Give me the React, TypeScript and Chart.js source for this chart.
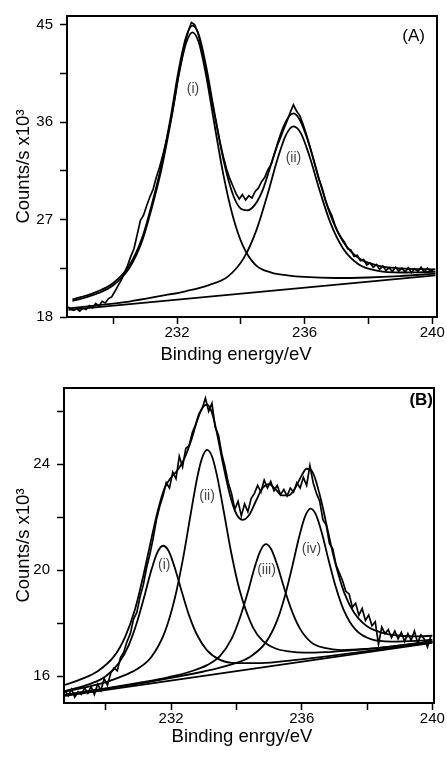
import React, { useEffect, useRef } from "react";
import { Chart, registerables } from "chart.js";

Chart.register(...registerables);

const FONT = "'Liberation Sans', Arial, sans-serif";

// ---------------- Panel A ----------------
const xTicksA = [230, 232, 234, 236, 238, 240];
const xLabelsA = [232, 236, 240];
const yTicksA = [18, 22.5, 27, 31.5, 36, 40.5, 45];
const yLabelsA = [18, 27, 36, 45];

const bgAx = [228.6, 240.1];
const bgAy = [18.65, 21.85];

const peakAix = [228.72, 229.0, 229.5, 230.0, 230.5, 230.9, 231.2, 231.5, 231.8, 232.05, 232.28, 232.48, 232.68, 232.91, 233.16, 233.46, 233.76, 234.06, 234.46, 234.96, 235.46, 235.98, 236.98, 237.98, 238.98, 240.1];
const peakAiy = [19.49, 19.7, 20.17, 20.93, 22.49, 24.97, 27.98, 31.5, 36.0, 40.3, 43.26, 44.29, 43.37, 40.33, 36.01, 31.03, 27.19, 24.62, 22.81, 22.1, 21.85, 21.7, 21.6, 21.65, 21.78, 22.0];

const peakAiix = [228.6, 229.5, 230.5, 231.5, 232.3, 233.0, 233.6, 234.1, 234.5, 234.85, 235.15, 235.42, 235.65, 235.88, 236.15, 236.45, 236.8, 237.2, 237.7, 238.3, 239.0, 240.1];
const peakAiiy = [18.79, 19.08, 19.43, 19.95, 20.4, 20.95, 21.75, 23.48, 26.12, 29.45, 32.59, 34.85, 35.61, 34.98, 32.87, 29.9, 26.76, 24.35, 22.85, 22.26, 22.11, 22.18];

const envAx = [228.72, 229.0, 229.5, 230.0, 230.5, 230.9, 231.2, 231.5, 231.8, 232.05, 232.28, 232.48, 232.68, 232.91, 233.16, 233.46, 233.76, 234.0, 234.2, 234.45, 234.7, 235.0, 235.3, 235.5, 235.65, 235.85, 236.1, 236.45, 236.8, 237.2, 237.7, 238.3, 239.0, 240.1];
const envAy = [19.63, 19.85, 20.35, 21.14, 22.74, 25.26, 28.31, 31.88, 36.44, 40.8, 43.83, 44.92, 44.09, 41.18, 37.06, 32.44, 29.24, 28.0, 27.85, 28.4, 29.84, 32.6, 35.3, 36.5, 36.8, 36.2, 34.3, 30.75, 27.5, 25.0, 23.42, 22.75, 22.5, 22.4];

const dataAStart = 228.55;
const dataAStep = 0.1;
const dataAy = [
  18.95, 18.8, 18.62, 18.75, 18.55, 18.82, 18.7, 19.05, 18.85, 19.25,
  19.02, 19.45, 19.3, 19.7, 19.85, 20.35, 20.9, 21.4, 22.1, 22.75,
  23.6, 24.3, 25.6, 26.9, 27.4, 28.3, 29.1, 29.8, 30.9, 31.8,
  32.9, 34.1, 35.4, 36.8, 38.5, 40.4, 41.9, 43.3, 44.4, 45.2,
  45.0, 44.3, 43.1, 41.7, 40.2, 38.6, 37.1, 35.6, 34.1, 32.8,
  31.7, 30.8, 30.1, 29.4, 28.9, 29.3, 28.8, 29.2, 29.0, 29.6,
  29.9, 30.5, 30.9, 31.6, 32.1, 33.0, 33.9, 34.6, 35.4, 36.1,
  36.9, 37.6, 37.0, 36.6, 35.8, 34.9, 33.9, 32.9, 31.8, 30.7,
  29.9, 28.8, 28.0, 27.4, 26.5, 25.8, 25.3, 24.9, 24.3, 24.2,
  23.6, 23.7, 23.2, 23.3, 22.8, 23.0, 22.6, 22.85, 22.4, 22.7,
  22.3, 22.55, 22.2, 22.6, 22.25, 22.5, 22.15, 22.55, 22.1, 22.45,
  22.2, 22.6, 22.15, 22.5, 22.2, 22.45,
];

// ---------------- Panel B ----------------
const xTicksB = [230, 232, 234, 236, 238, 240];
const xLabelsB = [232, 236, 240];
const yTicksB = [16, 18, 20, 22, 24, 26];
const yLabelsB = [16, 20, 24];

const bgBx = [228.75, 240.0];
const bgBy = [15.25, 17.25];

const peakBix = [228.75, 229.5, 230.0, 230.4, 230.7, 230.95, 231.2, 231.4, 231.58, 231.75, 231.92, 232.1, 232.3, 232.55, 232.8, 233.1, 233.5, 234.0, 234.75, 235.75, 237.0, 238.5, 240.0];
const peakBiy = [15.43, 15.69, 15.99, 16.49, 17.16, 18.01, 19.1, 20.02, 20.67, 20.92, 20.73, 20.14, 19.3, 18.29, 17.54, 16.97, 16.61, 16.49, 16.49, 16.6, 16.78, 17.02, 17.27];

const peakBiix = [228.75, 229.5, 230.1, 230.6, 231.0, 231.4, 231.8, 232.1, 232.35, 232.6, 232.8, 232.95, 233.1, 233.25, 233.4, 233.6, 233.85, 234.1, 234.5, 234.8, 235.2, 235.6, 236.1, 236.7, 237.5, 238.5, 240.0];
const peakBiiy = [15.41, 15.61, 15.81, 16.04, 16.29, 16.73, 17.64, 18.87, 20.34, 22.12, 23.5, 24.24, 24.54, 24.3, 23.6, 22.3, 20.6, 19.23, 17.85, 17.34, 17.04, 16.93, 16.88, 16.9, 16.97, 17.08, 17.31];

const peakBiiix = [228.75, 230.0, 231.0, 231.9, 232.6, 233.1, 233.5, 233.85, 234.1, 234.35, 234.55, 234.73, 234.9, 235.07, 235.25, 235.45, 235.7, 235.95, 236.3, 236.7, 237.2, 237.9, 238.8, 240.0];
const peakBiiiy = [15.29, 15.53, 15.74, 15.95, 16.17, 16.41, 16.76, 17.4, 18.17, 19.17, 20.07, 20.72, 20.98, 20.78, 20.19, 19.37, 18.45, 17.78, 17.26, 17.06, 16.98, 17.01, 17.12, 17.3];

const peakBivx = [228.75, 230.0, 231.0, 232.0, 233.0, 233.8, 234.4, 234.9, 235.25, 235.5, 235.72, 235.92, 236.1, 236.27, 236.44, 236.62, 236.82, 237.04, 237.29, 237.64, 238.14, 238.74, 239.54, 240.0];
const peakBivy = [15.28, 15.52, 15.71, 15.93, 16.17, 16.42, 16.71, 17.27, 18.11, 19.09, 20.19, 21.25, 22.02, 22.32, 22.08, 21.38, 20.39, 19.37, 18.48, 17.76, 17.38, 17.3, 17.33, 17.37];

const envBx = [228.75, 229.25, 229.75, 230.25, 230.6, 230.9, 231.15, 231.4, 231.6, 231.8, 232.0, 232.2, 232.4, 232.6, 232.8, 232.95, 233.1, 233.25, 233.4, 233.6, 233.8, 234.0, 234.2, 234.4, 234.6, 234.8, 235.0, 235.2, 235.4, 235.6, 235.8, 236.0, 236.15, 236.27, 236.4, 236.6, 236.8, 237.0, 237.3, 237.6, 238.0, 238.5, 239.0, 239.5, 240.0];
const envBy = [15.66, 15.88, 16.18, 16.74, 17.5, 18.54, 19.79, 21.21, 22.28, 23.1, 23.5, 23.78, 24.2, 24.85, 25.65, 26.12, 26.25, 25.95, 25.2, 23.95, 22.85, 22.12, 21.9, 22.1, 22.62, 23.1, 23.25, 23.05, 22.82, 22.82, 23.1, 23.58, 23.83, 23.8, 23.5, 22.6, 21.48, 20.4, 19.15, 18.4, 17.88, 17.62, 17.52, 17.5, 17.52];

const dataBStart = 228.75;
const dataBStep = 0.1;
const dataBy = [
  15.45, 15.25, 15.5, 15.2, 15.4, 15.3, 15.55, 15.35, 15.6, 15.3,
  15.7, 15.45, 15.9, 15.65, 16.1, 16.3, 16.2, 16.7, 16.9, 17.3,
  17.6, 18.15, 18.4, 19.0, 19.45, 20.1, 20.6, 21.2, 21.9, 22.4,
  22.8, 23.3, 23.1, 23.7, 23.45, 24.3, 23.9, 24.6, 24.7, 25.2,
  25.5, 25.9, 26.1, 26.5, 26.0, 26.3, 25.4, 25.1, 24.4, 23.9,
  23.3, 22.9, 22.3, 22.6, 22.05, 22.5, 22.2, 22.7, 22.9, 23.2,
  22.95, 23.4, 23.1, 23.35, 23.0, 23.2, 22.85, 23.05, 22.8, 23.1,
  22.95, 23.3, 23.1, 23.5, 23.2, 23.95, 23.3, 22.9, 22.6, 21.9,
  21.7, 21.0, 20.8, 20.2, 19.9, 19.6, 19.2, 19.1, 18.6, 18.75,
  18.3, 18.55, 18.1, 18.3, 17.9, 18.05, 17.2, 17.85, 17.6, 17.75,
  17.45, 17.7, 17.4, 17.65, 17.3, 17.6, 17.35, 17.7, 17.25, 17.55,
  17.4, 17.1, 17.5,
];

// text labels
const labelsAText = ["(i)", "(ii)"];
const labelsAX = [232.5, 235.65];
const labelsAY = [39.05, 32.7];
const labelsBText = ["(i)", "(ii)", "(iii)", "(iv)"];
const labelsBX = [231.79, 233.1, 234.92, 236.3];
const labelsBY = [20.19, 22.81, 20.0, 20.8];

function pts(xs: number[], ys: number[]) {
  return xs.map((x, i) => ({ x, y: ys[i] }));
}
function gridPts(start: number, step: number, ys: number[]) {
  return ys.map((y, i) => ({ x: +(start + i * step).toFixed(3), y }));
}

type PanelProps = {
  width: number;
  height: number;
  series: { points: { x: number; y: number }[]; smooth: boolean; width: number }[];
  xMin: number;
  xMax: number;
  yMin: number;
  yMax: number;
  xTicks: number[];
  xLabels: number[];
  yTicks: number[];
  yLabels: number[];
  xTitle: string;
  yTitle: string;
  padTop: number;
  padRight: number;
  yAxisWidth: number;
  xAxisHeight: number;
  xTitleX: number;
  xTitleY: number;
  tags: { text: string; x: number; y: number }[];
  panelText: string;
  panelX: number;
  panelY: number;
  panelBold: boolean;
};

function Panel(p: PanelProps) {
  const ref = useRef<HTMLCanvasElement | null>(null);
  useEffect(() => {
    if (!ref.current) return;
    const framePlugin = {
      id: "frame",
      afterDatasetsDraw(chart: any) {
        const { ctx, chartArea } = chart;
        ctx.save();
        ctx.strokeStyle = "#000";
        ctx.lineWidth = 2;
        ctx.strokeRect(chartArea.left, chartArea.top, chartArea.right - chartArea.left, chartArea.bottom - chartArea.top);
        ctx.restore();
      },
    };
    const labelPlugin = {
      id: "tags",
      afterDraw(chart: any) {
        const { ctx } = chart;
        const xs = chart.scales.x;
        const ys = chart.scales.y;
        ctx.save();
        ctx.fillStyle = "#444";
        ctx.font = `14px ${FONT}`;
        ctx.textAlign = "center";
        ctx.textBaseline = "middle";
        p.tags.forEach((t) => {
          ctx.fillText(t.text, xs.getPixelForValue(t.x), ys.getPixelForValue(t.y));
        });
        ctx.fillStyle = "#000";
        ctx.font = `18.5px ${FONT}`;
        ctx.fillText(p.xTitle, p.xTitleX, p.xTitleY);
        ctx.font = `${p.panelBold ? "bold " : ""}17px ${FONT}`;
        ctx.textAlign = "right";
        ctx.fillText(p.panelText, p.panelX, p.panelY);
        ctx.restore();
      },
    };
    const chart = new Chart(ref.current, {
      type: "line",
      data: {
        datasets: p.series.map((s) => ({
          data: s.points,
          borderColor: "#000",
          borderWidth: s.width,
          pointRadius: 0,
          fill: false,
          tension: s.smooth ? 0.4 : 0,
          cubicInterpolationMode: s.smooth ? "monotone" : "default",
        })) as any,
      },
      options: {
        animation: false,
        responsive: false,
        events: [],
        layout: { padding: { left: 0, right: p.padRight, top: p.padTop, bottom: 0 } },
        plugins: { legend: { display: false }, tooltip: { enabled: false } },
        scales: {
          x: {
            type: "linear",
            min: p.xMin,
            max: p.xMax,
            afterFit: (s: any) => {
              s.height = p.xAxisHeight;
            },
            afterBuildTicks: (s: any) => {
              s.ticks = p.xTicks.map((v) => ({ value: v }));
            },
            ticks: {
              autoSkip: false,
              maxRotation: 0,
              padding: 0,
              color: "#000",
              font: { family: FONT, size: 15 },
              callback: (v: any) => (p.xLabels.includes(Number(v)) ? String(v) : ""),
            },
            grid: { drawOnChartArea: false, drawTicks: true, tickLength: 7, tickWidth: 1.5, tickColor: "#000" },
            border: { display: false },
            title: { display: false },
          },
          y: {
            type: "linear",
            min: p.yMin,
            max: p.yMax,
            afterFit: (s: any) => {
              s.width = p.yAxisWidth;
            },
            afterBuildTicks: (s: any) => {
              s.ticks = p.yTicks.map((v) => ({ value: v }));
            },
            ticks: {
              autoSkip: false,
              padding: 7,
              color: "#000",
              font: { family: FONT, size: 15 },
              callback: (v: any) => (p.yLabels.includes(Number(v)) ? String(v) : ""),
            },
            grid: { drawOnChartArea: false, drawTicks: true, tickLength: 7, tickWidth: 1.5, tickColor: "#000" },
            border: { display: false },
            title: {
              display: true,
              text: p.yTitle,
              color: "#000",
              font: { family: FONT, size: 18.5 },
              padding: { top: 13, bottom: 0 },
            },
          },
        },
      } as any,
      plugins: [framePlugin, labelPlugin],
    });
    return () => chart.destroy();
  }, []);
  return <canvas ref={ref} width={p.width} height={p.height} style={{ display: "block", width: p.width, height: p.height }} />;
}

export default function App() {
  const seriesA = [
    { points: pts(bgAx, bgAy), smooth: false, width: 1.8 },
    { points: pts(peakAix, peakAiy), smooth: true, width: 1.8 },
    { points: pts(peakAiix, peakAiiy), smooth: true, width: 1.8 },
    { points: pts(envAx, envAy), smooth: true, width: 1.8 },
    { points: gridPts(dataAStart, dataAStep, dataAy), smooth: false, width: 1.7 },
  ];
  const seriesB = [
    { points: pts(bgBx, bgBy), smooth: false, width: 1.8 },
    { points: pts(peakBix, peakBiy), smooth: true, width: 1.8 },
    { points: pts(peakBiix, peakBiiy), smooth: true, width: 1.8 },
    { points: pts(peakBiiix, peakBiiiy), smooth: true, width: 1.8 },
    { points: pts(peakBivx, peakBivy), smooth: true, width: 1.8 },
    { points: pts(envBx, envBy), smooth: true, width: 1.8 },
    { points: gridPts(dataBStart, dataBStep, dataBy), smooth: false, width: 1.7 },
  ];
  return (
    <div style={{ position: "fixed", left: 0, top: 0, width: 447, height: 760, background: "#fff" }}>
      <Panel
        width={447}
        height={372}
        series={seriesA}
        xMin={228.55}
        xMax={240.15}
        yMin={18}
        yMax={45.8}
        xTicks={xTicksA}
        xLabels={xLabelsA}
        yTicks={yTicksA}
        yLabels={yLabelsA}
        xTitle="Binding energy/eV"
        yTitle="Counts/s x10³"
        padTop={15}
        padRight={10}
        yAxisWidth={67}
        xAxisHeight={55}
        xTitleX={236}
        xTitleY={355}
        tags={labelsAText.map((t, i) => ({ text: t, x: labelsAX[i], y: labelsAY[i] }))}
        panelText="(A)"
        panelX={425}
        panelY={36}
        panelBold={false}
      />
      <Panel
        width={447}
        height={388}
        series={seriesB}
        xMin={228.72}
        xMax={240.05}
        yMin={14.98}
        yMax={26.88}
        xTicks={xTicksB}
        xLabels={xLabelsB}
        yTicks={yTicksB}
        yLabels={yLabelsB}
        xTitle="Binding enrgy/eV"
        yTitle="Counts/s x10³"
        padTop={13}
        padRight={13}
        yAxisWidth={64}
        xAxisHeight={57}
        xTitleX={242}
        xTitleY={365}
        tags={labelsBText.map((t, i) => ({ text: t, x: labelsBX[i], y: labelsBY[i] }))}
        panelText="(B)"
        panelX={433}
        panelY={28}
        panelBold={true}
      />
    </div>
  );
}
